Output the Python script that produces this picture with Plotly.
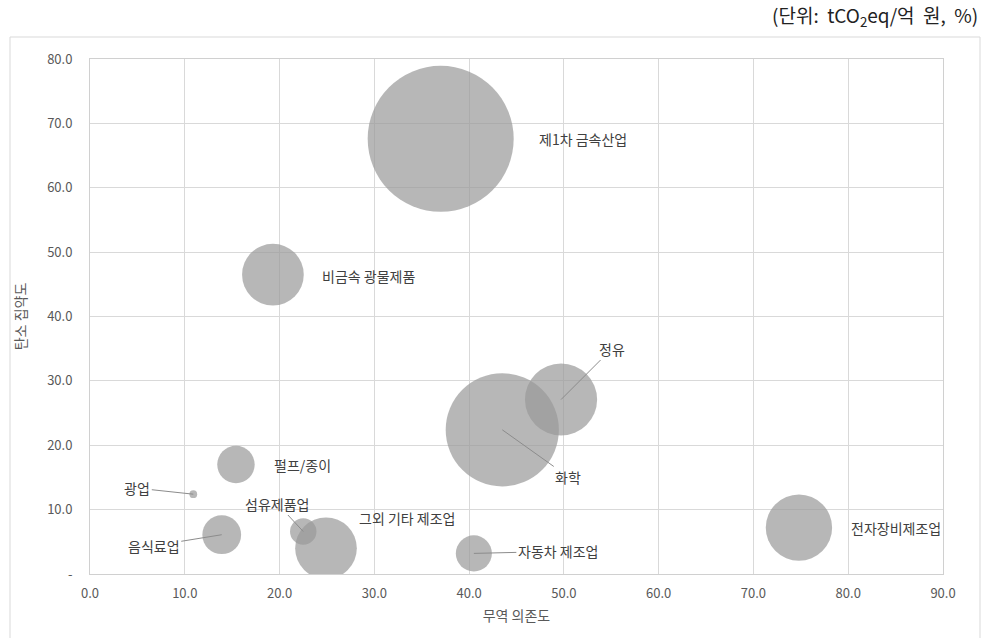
import plotly.graph_objects as go

# ---- data ----
industries = ["제1차 금속산업", "비금속 광물제품", "정유", "화학", "펄프/종이", "광업",
              "음식료업", "섬유제품업", "그외 기타 제조업", "자동차 제조업", "전자장비제조업"]
trade_dependence = [37.0, 19.3, 49.7, 43.5, 15.4, 10.9, 13.9, 22.5, 24.9, 40.5, 74.8]
carbon_intensity = [67.6, 46.5, 27.1, 22.4, 17.0, 12.4, 6.1, 6.6, 4.0, 3.2, 7.2]
bubble_size = [213, 38, 52, 128, 14, 0.6, 15, 7, 38, 13, 44]

x_ticks = [0, 10, 20, 30, 40, 50, 60, 70, 80, 90]
x_ticktext = ["0.0", "10.0", "20.0", "30.0", "40.0", "50.0", "60.0", "70.0", "80.0", "90.0"]
y_ticks = [0, 10, 20, 30, 40, 50, 60, 70, 80]
y_ticktext = ["-", "10.0", "20.0", "30.0", "40.0", "50.0", "60.0", "70.0", "80.0"]

# label placement (pixels): (leader?, dx, dy)
label_style = {
    "제1차 금속산업": (False, 96, 0),
    "비금속 광물제품": (False, 47, 1),
    "정유": (True, 51, -51),
    "화학": (True, 66, 47),
    "펄프/종이": (False, 36, 0),
    "광업": (True, -56, -6),
    "음식료업": (True, -68, 11),
    "섬유제품업": (True, -26, -28),
    "그외 기타 제조업": (None, 81, -30),
    "자동차 제조업": (True, 84, -2),
    "전자장비제조업": (False, 50, 0),
}

FONT = "Noto Sans CJK KR"
MAX_D = 146

fig = go.Figure()
fig.add_trace(go.Scatter(
    x=trade_dependence, y=carbon_intensity, mode="markers",
    marker=dict(size=bubble_size, sizemode="area",
                sizeref=2 * max(bubble_size) / MAX_D ** 2,
                color="rgb(152,152,152)", opacity=0.7,
                line=dict(width=0)),
    hovertext=industries, showlegend=False,
))

for name, xv, yv in zip(industries, trade_dependence, carbon_intensity):
    leader, dx, dy = label_style[name]
    common = dict(x=xv, y=yv, xref="x", yref="y", text=name,
                  font=dict(family=FONT, size=14, color="#404040"))
    if leader is True:
        fig.add_annotation(**common, showarrow=True, arrowhead=0, arrowwidth=1,
                           arrowcolor="#8c8c8c", ax=dx, ay=dy, standoff=0)
    elif leader is None:
        fig.add_annotation(**common, showarrow=False, xanchor="center",
                           xshift=dx, yshift=-dy)
    else:
        fig.add_annotation(**common, showarrow=False, xanchor="left",
                           xshift=dx, yshift=-dy)

# unit text
fig.add_annotation(x=1.0, y=1.0, xref="paper", yref="paper", xanchor="right",
                   yanchor="bottom", yshift=26, xshift=37, showarrow=False,
                   text="(단위:\u00a0 tCO<sub>2</sub>eq/억\u00a0 원,\u00a0 %)",
                   font=dict(family=FONT, size=19, color="#222222"))

# outer chart border
fig.add_shape(type="rect", xref="paper", yref="paper",
              x0=-80 / 853, x1=1 + 37 / 853, y0=-66 / 515, y1=1 + 22 / 515,
              line=dict(color="#d9d9d9", width=1), layer="below")

fig.update_xaxes(range=[0, 90], tickvals=x_ticks, ticktext=x_ticktext,
                 showgrid=True, gridcolor="#d9d9d9", gridwidth=1,
                 zeroline=False, showline=True, linecolor="#d0d0d0", mirror=True,
                 ticks="", ticklabelstandoff=7,
                 tickfont=dict(family=FONT, size=13, color="#595959"),
                 title=dict(text="무역 의존도", standoff=10,
                            font=dict(family=FONT, size=14, color="#595959")))
fig.update_yaxes(range=[0, 80], tickvals=y_ticks, ticktext=y_ticktext,
                 showgrid=True, gridcolor="#d9d9d9", gridwidth=1,
                 zeroline=False, showline=True, linecolor="#d0d0d0", mirror=True,
                 ticks="", ticklabelstandoff=14,
                 tickfont=dict(family=FONT, size=13, color="#595959"),
                 title=dict(text="탄소 집약도", standoff=17,
                            font=dict(family=FONT, size=14, color="#595959")))

fig.update_layout(width=985, height=638,
                  margin=dict(l=90, r=42, t=59, b=64),
                  plot_bgcolor="white", paper_bgcolor="white",
                  font=dict(family=FONT))

fig.write_html("out.html")
